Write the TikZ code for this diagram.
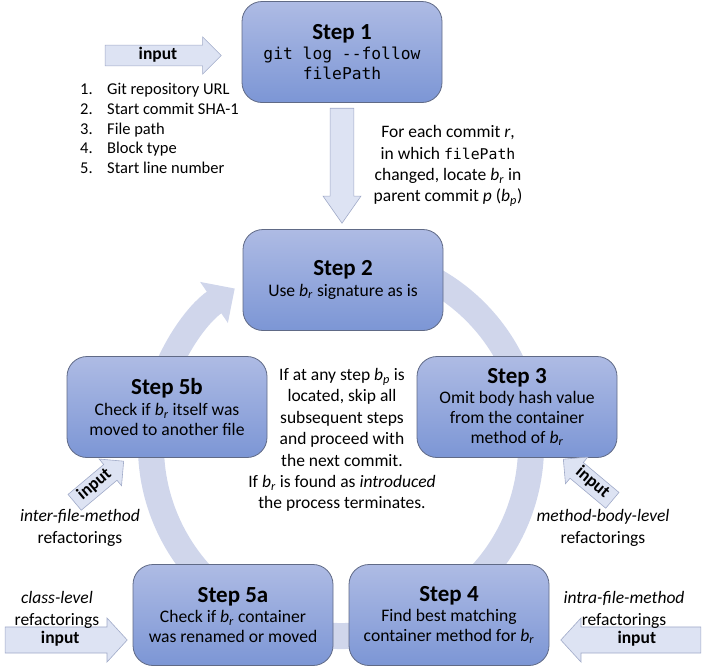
\documentclass[tikz,border=0pt]{standalone}
\usepackage{fontspec}
\setmainfont{Carlito}
\newfontfamily\codefont{DejaVu Sans Mono}
\usetikzlibrary{arrows.meta}
\usetikzlibrary{positioning, shapes.arrows, shapes.geometric, shapes.misc, backgrounds}

\definecolor{boxtop}{RGB}{174,187,228}
\definecolor{boxbottom}{RGB}{124,150,213}
\definecolor{boxline}{RGB}{96,106,134}
\definecolor{ringfill}{RGB}{208,214,235}
\definecolor{arrowfill}{RGB}{221,227,243}
\definecolor{arrowline}{RGB}{160,170,200}

\newcommand{\bvar}[1]{\textit{b}\textsubscript{\textit{#1}}}
\newcommand{\headline}[1]{{\fontsize{23}{26}\selectfont\bfseries #1}}
\newcommand{\codetext}[2]{{\codefont\fontsize{#1}{19}\selectfont #2}}

\tikzset{
stepbox/.style = { rectangle, draw = boxline, line width = 0.8pt, top color = boxtop, bottom color = boxbottom, minimum width = 200pt, minimum height = 101pt, rounded corners = 20pt, align = center, inner sep = 0pt, font = \fontsize{17.6}{19.6}\selectfont },
input arrow/.style = { single arrow, draw = arrowline, fill = arrowfill, line width = 0.6pt, single arrow head indent = 0pt, inner xsep = 4pt, text height = 10.5pt, text depth = 3.5pt, font = \fontsize{17.5}{18}\selectfont\bfseries },
note/.style = { align = center, inner sep = 0pt, font = \fontsize{17.5}{21.4}\selectfont },
ring/.style = { draw = ringfill, line width = 26pt, -{Triangle[width = 48pt, length = 25pt]} },
}

\begin{document}
\begin{tikzpicture}[x = 1pt, y = -1pt]
    \useasboundingbox (0, 0) rectangle (706, 667);
    % the loop behind the steps
    \coordinate (ring centre) at (341, 446);
    \draw[ring] ([shift = {(-75:190)}]ring centre) arc[start angle = -75, end angle = 236, radius = 190];

    \node[stepbox] (step1) at (342, 52) {\headline{Step 1}\\[1pt] \codetext{16.3}{git log -{}-follow}\\ \codetext{16.3}{filePath}};
    \node[stepbox] (step2) at (343, 280) {\headline{Step 2}\\[1pt] Use \bvar{r} signature as is};
    \node[stepbox] (step3) at (517, 407) {\headline{Step 3}\\[1pt] Omit body hash value\\ from the container\\ method of \bvar{r}};
    \node[stepbox] (step5b) at (167, 407) {\headline{Step 5b}\\[1pt] Check if \bvar{r} itself was\\ moved to another file};
    \node[stepbox] (step5a) at (233, 615) {\headline{Step 5a}\\[1pt] Check if \bvar{r} container\\ was renamed or moved};
    \node[stepbox] (step4) at (449, 615) {\headline{Step 4}\\[1pt] Find best matching\\ container method for \bvar{r}};

    % block arrows
    \node[input arrow, rotate = -90, anchor = tail, minimum height = 115pt, minimum width = 38pt, inner ysep = 4.5pt, single arrow tip angle = 70] (flow) at ([yshift = -5pt]step1.south) {};
    \node[input arrow, anchor = tip, minimum height = 116pt, minimum width = 37pt, inner ysep = 1.75pt] (input1) at ([xshift = -20pt, yshift = -3.5pt]step1.west) {input};
    \node[input arrow, rotate = 40, anchor = tip, minimum height = 64pt, minimum width = 34pt, inner ysep = 3pt, inner xsep = 1pt] (input5b) at ([xshift = -43pt, yshift = -3pt]step5b.south) {input};
    \node[input arrow, rotate = -40, shape border rotate = 180, anchor = tip, minimum height = 64pt, minimum width = 34pt, inner ysep = 3pt, inner xsep = 1pt] (input3) at ([xshift = 46pt, yshift = -1pt]step3.south) {input};
    \node[input arrow, anchor = tip, minimum height = 122pt, minimum width = 44pt, inner ysep = 3pt, single arrow tip angle = 95] (input5a) at ([xshift = -5pt, yshift = -25pt]step5a.west) {input};
    \node[input arrow, shape border rotate = 180, anchor = tip, minimum height = 140pt, minimum width = 44pt, inner ysep = 3pt, single arrow tip angle = 95] (input4) at ([xshift = 11pt, yshift = -25pt]step4.east) {input};

    % texts
    \node[anchor = north west, inner sep = 0pt, font = \fontsize{16.5}{19.8}\selectfont] (inputs) at (80, 80.5) {\begin{tabular}[t]{@{}p{27pt}@{}l@{}}
        1. & Git repository URL\\
        2. & Start commit SHA-1\\
        3. & File path\\
        4. & Block type\\
        5. & Start line number
    \end{tabular}};
    \node[note] (commit note) at (448, 166) {For each commit \textit{r},\\ in which \codetext{14.8}{filePath}\\ changed, locate \bvar{r} in\\ parent commit \textit{p} (\bvar{p})};
    \node[note] (skip note) at (342, 440) {If at any step \bvar{p} is\\ located, skip all\\ subsequent steps\\ and proceed with\\ the next commit.\\ If \bvar{r} is found as \textit{introduced}\\ the process terminates.};
    \node[note] (inter label) at (80, 528) {\textit{inter-file-method}\\ refactorings};
    \node[note] (body label) at (603, 528) {\textit{method-body-level}\\ refactorings};
    \node[note] (class label) at (57, 610) {\textit{class-level}\\ refactorings};
    \node[note] (intra label) at (624, 610) {\textit{intra-file-method}\\ refactorings};
\end{tikzpicture}
\end{document}
